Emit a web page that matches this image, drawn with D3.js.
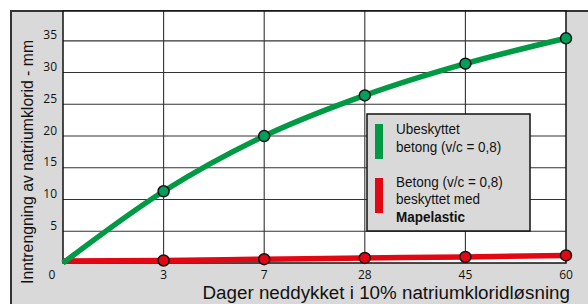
<!DOCTYPE html>
<html>
<head>
<meta charset="utf-8">
<script src="https://cdn.jsdelivr.net/npm/d3@7"></script>
<style>
  body{margin:0;background:#fff;}
  svg{display:block;}
  .tick{font-family:"Open Sans",sans-serif;font-size:12px;fill:#111;}
  .title{font-family:"Liberation Sans",Arial,sans-serif;font-size:18.8px;fill:#111;}
  .leg{font-family:"Liberation Sans",Arial,sans-serif;font-size:15px;fill:#111;}
</style>
</head>
<body>
<svg id="chart" width="588" height="304"></svg>
<script>
// data -------------------------
var days=['0','3','7','28','45','60'];
var unprotectedVals=[0,11.3,20,26.4,31.4,35.4];
var protectedVals=[0.3,0.4,0.6,0.8,0.95,1.2];
var yTicks=[5,10,15,20,25,30,35];
var legendUnprotected=['Ubeskyttet','betong (v/c = 0,8)'];
var legendProtected=['Betong (v/c = 0,8)','beskyttet med','Mapelastic'];

// layout
var plot={left:63,right:566,top:11,bottom:263};
var green='#009a44',greenDot='#00a05c',red='#e30613';

var svg=d3.select('#chart');

// outer grey frame
svg.append('rect')
  .attr('x',11).attr('y',11).attr('width',600).attr('height',310)
  .attr('fill','#d9d9d9').attr('stroke','#333').attr('stroke-width',2);

var x=d3.scalePoint().domain(days).range([plot.left,plot.right]);
var y=d3.scaleLinear().domain([0,39.7]).range([plot.bottom,plot.top]);

// plot area
svg.append('rect')
  .attr('x',plot.left).attr('y',plot.top)
  .attr('width',plot.right-plot.left).attr('height',plot.bottom-plot.top)
  .attr('fill','#fff');

// grid
svg.append('g').selectAll('line').data(yTicks).join('line')
  .attr('x1',plot.left).attr('x2',plot.right)
  .attr('y1',d=>y(d)).attr('y2',d=>y(d))
  .attr('stroke','#333').attr('stroke-width',1.1);
svg.append('g').selectAll('line').data(days.slice(1,-1)).join('line')
  .attr('x1',d=>x(d)).attr('x2',d=>x(d))
  .attr('y1',plot.top).attr('y2',plot.bottom)
  .attr('stroke','#333').attr('stroke-width',1.1);

// plot border
svg.append('rect')
  .attr('x',plot.left).attr('y',plot.top)
  .attr('width',plot.right-plot.left).attr('height',plot.bottom-plot.top)
  .attr('fill','none').attr('stroke','#111').attr('stroke-width',1.5);

// y tick labels, sitting just above their grid line
svg.append('g').selectAll('text').data(yTicks).join('text')
  .attr('class','tick')
  .attr('x',57).attr('y',d=>y(d)-1.5)
  .attr('text-anchor','end')
  .text(d=>d);
// x tick labels (0 sits left of the axis corner)
svg.append('g').selectAll('text').data(days).join('text')
  .attr('class','tick')
  .attr('x',(d,i)=>i==0?x(d)-11:x(d)).attr('y',279)
  .attr('text-anchor','middle')
  .text(d=>d);

// axis titles
svg.append('text').attr('class','title')
  .attr('x',570).attr('y',299).attr('text-anchor','end')
  .text('Dager neddykket i 10% natriumkloridløsning');
svg.append('text').attr('class','title')
  .attr('transform','translate(33,284) rotate(-90)')
  .attr('text-anchor','start')
  .style('font-size','15.8px')
  .text('Inntrengning av natriumklorid - mm');

// series
var line=d3.line().x((d,i)=>x(days[i])).y(d=>y(d)).curve(d3.curveMonotoneX);

svg.append('path').datum(protectedVals)
  .attr('d',line).attr('fill','none')
  .attr('stroke',red).attr('stroke-width',5.5);
svg.append('path').datum(unprotectedVals)
  .attr('d',line).attr('fill','none')
  .attr('stroke',green).attr('stroke-width',5.5);

svg.append('g').selectAll('circle').data(protectedVals.slice(1)).join('circle')
  .attr('cx',(d,i)=>x(days[i+1])).attr('cy',d=>y(d)).attr('r',5.5)
  .attr('fill',red).attr('stroke','#111').attr('stroke-width',1.5);
svg.append('g').selectAll('circle').data(unprotectedVals.slice(1)).join('circle')
  .attr('cx',(d,i)=>x(days[i+1])).attr('cy',d=>y(d)).attr('r',5.5)
  .attr('fill',greenDot).attr('stroke','#111').attr('stroke-width',1.5);

// legend
var leg=svg.append('g').attr('transform','translate(367,114)');
leg.append('rect').attr('width',163).attr('height',117)
  .attr('fill','#d9d9d9').attr('stroke','#111').attr('stroke-width',1.5);
leg.append('rect').attr('x',8).attr('y',10).attr('width',8).attr('height',35).attr('fill',green);
leg.append('rect').attr('x',8).attr('y',64).attr('width',8).attr('height',35).attr('fill',red);
// condensed look: squeeze the text horizontally
var legText=leg.append('g').attr('transform','translate(29,0) scale(0.9,1)');
legText.append('g').selectAll('text').data(legendUnprotected).join('text')
  .attr('class','leg').attr('x',0).attr('y',(d,i)=>20+i*18).text(d=>d);
legText.append('g').selectAll('text').data(legendProtected).join('text')
  .attr('class','leg').attr('x',0).attr('y',(d,i)=>73+i*17.5)
  .style('font-weight',(d,i)=>i==2?'bold':null)
  .text(d=>d);
</script>
</body>
</html>
